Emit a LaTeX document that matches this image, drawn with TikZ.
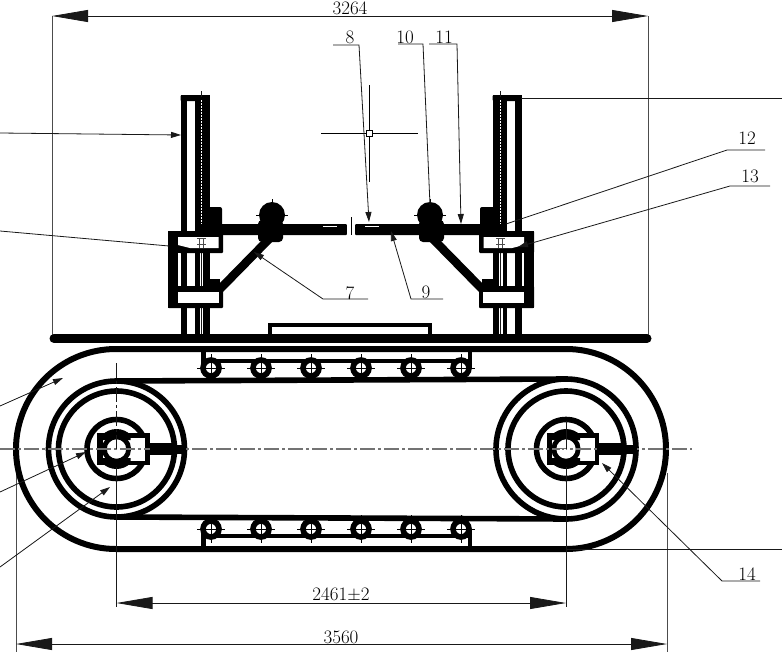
\documentclass[tikz,border=0pt]{standalone}
\usepackage{fontspec}
\setmainfont{Latin Modern Roman}
\usetikzlibrary{arrows.meta}
\tikzset{
  thick line/.style={line width=5.6pt,line join=round},
  thin line/.style={line width=0.8pt,draw=black!90},
  leader/.style={line width=0.8pt,draw=black!90,-{Triangle[length=10pt,width=6pt]}},
  plain leader/.style={line width=0.8pt,draw=black!90},
  dim/.style={line width=0.8pt,draw=black!90,{Triangle[length=36pt,width=12pt]}-{Triangle[length=36pt,width=12pt]}},
  ext/.style={line width=1pt,draw=black!70},
  centre/.style={line width=1.5pt,draw=black!55,dash pattern=on 15pt off 3pt on 3pt off 3pt},
  lbl/.style={inner sep=0pt,font=\fontsize{19}{21}\selectfont,text=black},
}
\newcommand{\sideframe}{%
  \fill (180.5,95) rectangle (187,334);
  \fill (195,95) rectangle (209.5,334);
  \fill[rounded corners=1pt] (180.5,95) rectangle (209.5,101);
  \draw[white,line width=0.7pt,dash pattern=on 2pt off 1pt] (201.5,100) -- (201.5,224);
  \fill[white] (199.5,253) rectangle (203,334);
  \draw[thin line] (201.3,253) -- (201.3,334);
  \draw[thin line] (201.5,91) -- (201.5,97);
  \fill[rounded corners=1pt] (168,231) rectangle (223,253);
  \fill[rounded corners=1pt] (168,286) rectangle (223,308);
  \fill (168,231) rectangle (178,308);
  \fill[white] (178,237) -- (218.5,237) -- (218.5,248) -- (190,248) -- (178,245) -- cycle;
  \fill[white] (178,292) rectangle (219,303);
  \fill[white] (178,253) rectangle (180,286);
  \draw[line width=0.8pt,black!70] (197,238)--(206,238) (197,244)--(206,244) (199.5,238)--(199.5,248) (203.5,238)--(203.5,248);
  \fill[rounded corners=1pt] (209,224) rectangle (347,235);
  \fill[rounded corners=2pt] (205,207) rectangle (222,226);
  \draw[white,line width=0.6pt] (323,226.5) -- (337,226.5);
  \draw[line width=8.5pt] (272,236) -- (218,291);
  \fill (209,279) rectangle (220,288);
  \fill (272,215) circle (13);
  \fill[rounded corners=4pt] (258,220) rectangle (283,242);
  \draw[line width=0.6pt] (272,199) -- (272,204) (284,215) -- (288,215) (256,215) -- (260,215);
}
\newcommand{\wheel}[3]{%
  \draw[thick line] (#1,449) circle (#2);
  \draw[thick line] (#1,449) circle (58);
  \draw[thick line] (#1,449) circle (29.5);
  \fill[white] (#1-19,433) rectangle (#1+33,465);
  \draw[line width=4.5pt] (#1-17,435.5) rectangle (#1+31,463);
  \fill (#1-19,433) rectangle (#1-14,465);
  \begin{scope}
    \clip (#1-14,425) rectangle (#1+14,440) (#1-14,458) rectangle (#1+14,473);
    \fill (#1,449) circle (20);
  \end{scope}
  \draw[line width=4.8pt,fill=white] (#1,449) circle (12.2);
}
\newcommand{\roller}[2]{%
  \draw[line width=5.6pt,fill=white] (#1,#2) circle (8);
  \draw[line width=0.7pt] (#1-14,#2) -- (#1+14,#2) (#1,#2-14) -- (#1,#2+14);
}
\begin{document}
\begin{tikzpicture}[x=1pt,y=-1pt]
\useasboundingbox (0,0) rectangle (782,659);
\fill[white] (0,0) rectangle (782,659);

\draw[ext] (52,16) -- (52,336);
\draw[ext] (648,16) -- (648,336);
\draw[ext] (16,465) -- (16,652);
\draw[ext] (667,473) -- (667,652);

\begin{scope}\sideframe\end{scope}
\begin{scope}[shift={(702,0)},xscale=-1]\sideframe\end{scope}

\fill[white] (347,220) rectangle (355,240);
\draw[line width=0.8pt] (351,217) -- (351,235);

\draw[line width=9pt,line cap=round] (54,338.5) -- (647,338.5);
\draw[line width=4.5pt] (270,334) -- (270,325) -- (430,325) -- (430,334);

\draw[line width=6pt,line join=round]
  (116,349) -- (566,349) arc[start angle=-90,end angle=90,radius=100] -- (116,549)
  arc[start angle=90,end angle=270,radius=100] -- cycle;
\draw[line width=5.6pt] (116,381) -- (566,379);
\draw[line width=5.6pt] (116,517) -- (566,519);

\wheel{116.5}{68}{183}
\wheel{566}{70}{637}

\draw[line width=4.5pt] (203.5,351) -- (203.5,368);
\draw[line width=4.5pt] (470,351) -- (470,368);
\draw[line width=4.5pt] (203,361) -- (470,361);
\draw[line width=4.5pt] (203.5,529) -- (203.5,551);
\draw[line width=4.5pt] (470,529) -- (470,551);
\draw[line width=4.5pt] (203,536) -- (470,536);
\foreach \px in {211,261,311,361,411,461} {
  \roller{\px}{368}
  \roller{\px}{529}
}

\draw[centre] (0,449) -- (692,449);
\fill (149.5,443) rectangle (176,455);
\fill (599,443) rectangle (626,455);
\fill (176,444.5) rectangle (183,453.5);
\fill (626,444.5) rectangle (637,453.5);
\draw[line width=0.8pt,draw=black!90,dash pattern=on 15pt off 3pt on 3pt off 3pt] (116.5,363) -- (116.5,449);
\draw[thin line] (116.5,467) -- (116.5,607);
\draw[thin line] (566,421) -- (566,449);
\draw[thin line] (566,467) -- (566,607);
\draw[line width=1pt,draw=white,dash pattern=on 2pt off 2pt] (560,449) -- (572,449);

\coordinate (a1) at (52,16);
\coordinate (a2) at (648,16);
\draw[dim] (a1) -- (a2);
\node[lbl] (d1) at (350,8.5) {3264};
\coordinate (b1) at (116.5,603);
\coordinate (b2) at (566,603);
\draw[dim] (b1) -- (b2);
\node[lbl] (d2) at (341,595) {2461$\pm$2};
\coordinate (c1) at (16,644);
\coordinate (c2) at (667,644);
\draw[dim] (c1) -- (c2);
\node[lbl] (d3) at (341,637) {3560};

\coordinate (x0) at (369,133);
\draw[line width=0.8pt] (321,133) -- (418,133) (369,85) -- (369,182);
\draw[line width=0.8pt,fill=white] (366,130) rectangle (372,136);

\node[lbl] (n8) at (350,37) {8};
\node[lbl] (n10) at (405,37) {10};
\node[lbl] (n11) at (444,37) {11};
\node[lbl] (n12) at (747,138) {12};
\node[lbl] (n13) at (750,176) {13};
\node[lbl] (n7) at (350,293) {7};
\node[lbl] (n9) at (426,292) {9};
\node[lbl] (n14) at (747,574) {14};

\coordinate (t8) at (369,222);
\coordinate (t10) at (430,205);
\coordinate (t11) at (461,224);
\coordinate (t12) at (506,224);
\coordinate (t13) at (518,247);
\coordinate (t7) at (254,252);
\coordinate (t9) at (391,231);
\coordinate (t14) at (602,463);
\draw[leader] (333,45) -- (359,45) -- (t8);
\draw[plain leader] (398,44) -- (423,44) -- (t10);
\draw[leader] (429,44) -- (457,44) -- (t11);
\draw[plain leader] (765,150) -- (727,150) -- (t12);
\draw[leader] (770,186) -- (730,186) -- (t13);
\draw[leader] (368,299) -- (323,299) -- (t7);
\draw[leader] (443,299) -- (411,299) -- (t9);
\draw[leader] (760,581) -- (722,581) -- (t14);

\coordinate (e1) at (0,133);   \coordinate (f1) at (181,135);
\coordinate (e2) at (0,231);   \coordinate (f2) at (169,246);
\coordinate (e3) at (0,406);   \coordinate (f3) at (63,378);
\coordinate (e4) at (0,492);   \coordinate (f4) at (86,452);
\coordinate (e5) at (0,567);   \coordinate (f5) at (110,487);
\coordinate (e6) at (782,98);  \coordinate (f6) at (521,98);
\coordinate (e7) at (782,549); \coordinate (f7) at (566,549);
\draw[leader] (e1) -- (f1);
\draw[plain leader] (e2) -- (f2);
\draw[leader] (e3) -- (f3);
\draw[leader] (e4) -- (f4);
\draw[leader] (e5) -- (f5);
\draw[plain leader] (e6) -- (f6);
\draw[plain leader] (e7) -- (f7);
\end{tikzpicture}
\end{document}
